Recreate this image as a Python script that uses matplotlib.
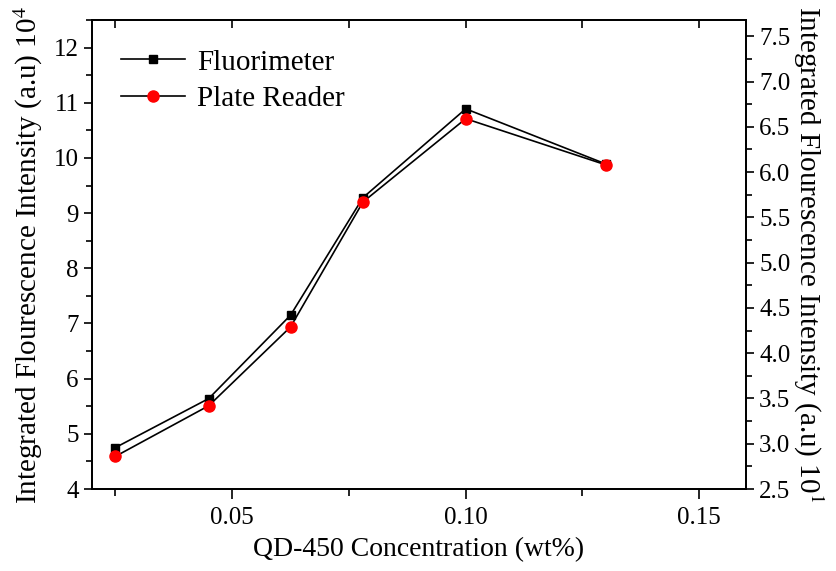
import matplotlib
matplotlib.use('Agg')
import matplotlib.pyplot as plt
from matplotlib.ticker import MultipleLocator

plt.rcParams['font.family'] = 'Liberation Serif'
plt.rcParams['mathtext.fontset'] = 'stix'

# concentration (wt%)
conc = [0.025, 0.045, 0.0625, 0.078, 0.10, 0.13]
# fluorimeter, x10^4 a.u. (left axis)
fluorimeter = [4.75, 5.64, 7.15, 9.28, 10.89, 9.89]
# plate reader, x10^1 a.u. (right axis)
plate_reader = [2.86, 3.42, 4.29, 5.67, 6.59, 6.08]

pos = [92/836, 1 - 489/571, (746-92)/836, (489-20)/571]
fig = plt.figure(figsize=(8.36, 5.71), dpi=100)
ax1 = fig.add_axes(pos)
ax2 = ax1.twinx()

l1, = ax1.plot(conc, fluorimeter, '-', color='black', lw=1.2, marker='s',
               markersize=6, markerfacecolor='black', markeredgecolor='black',
               label='Fluorimeter')
l2, = ax2.plot(conc, plate_reader, '-', color='black', lw=1.2, marker='o',
               markersize=8, markerfacecolor='red', markeredgecolor='red',
               label='Plate Reader')

ax1.set_xlim(0.02, 0.16)
ax1.set_ylim(4, 12.5)
ax2.set_ylim(2.5, 7.68)

ax1.xaxis.set_major_locator(MultipleLocator(0.05))
ax1.xaxis.set_minor_locator(MultipleLocator(0.025))
ax1.yaxis.set_major_locator(MultipleLocator(1))
ax1.yaxis.set_minor_locator(MultipleLocator(0.5))
ax2.yaxis.set_major_locator(MultipleLocator(0.5))
ax2.yaxis.set_minor_locator(MultipleLocator(0.25))
ax1.xaxis.set_major_formatter(plt.FuncFormatter(lambda v, p: f'{v:.2f}'))
ax2.yaxis.set_major_formatter(plt.FuncFormatter(lambda v, p: f'{v:.1f}'))

ax1.tick_params(axis='x', which='both', direction='out', labelsize=18, pad=6)
ax1.tick_params(axis='x', which='major', length=7, width=1.2)
ax1.tick_params(axis='x', which='minor', length=5, width=1.2)
ax1.tick_params(axis='y', which='major', direction='out', length=6, width=1.2, labelsize=18)
ax1.tick_params(axis='y', which='minor', direction='out', length=4, width=1.2)
ax2.tick_params(axis='y', which='major', direction='out', length=6, width=1.2, labelsize=18)
ax2.tick_params(axis='y', which='minor', direction='out', length=4, width=1.2)

# top spine: inward ticks, no labels, on an overlay axes
ax3 = fig.add_axes(pos, frameon=False)
ax3.set_xlim(ax1.get_xlim())
ax3.xaxis.set_major_locator(MultipleLocator(0.025))
ax3.tick_params(axis='x', which='both', bottom=False, top=True, labelbottom=False,
                labeltop=False, direction='in', length=6, width=1.2)
ax3.set_yticks([])
ax3.patch.set_visible(False)

for sp in ax1.spines.values():
    sp.set_linewidth(1.3)
for sp in ax2.spines.values():
    sp.set_linewidth(1.3)

ax1.set_xlabel('QD-450 Concentration (wt%)', fontsize=20, labelpad=6)
ax1.set_ylabel('Integrated Flourescence Intensity (a.u) 10$^4$', fontsize=21, labelpad=6)
ax2.set_ylabel('Integrated Flourescence Intensity (a.u) 10$^1$', fontsize=21,
               rotation=270, labelpad=25)

ax1.legend(handles=[l1, l2], loc='upper left', frameon=False, fontsize=21,
           handlelength=2.2, handletextpad=0.4, borderaxespad=0.6,
           labelspacing=0.35, bbox_to_anchor=(0.0, 1.0))

fig.savefig('out.png', dpi=100)
